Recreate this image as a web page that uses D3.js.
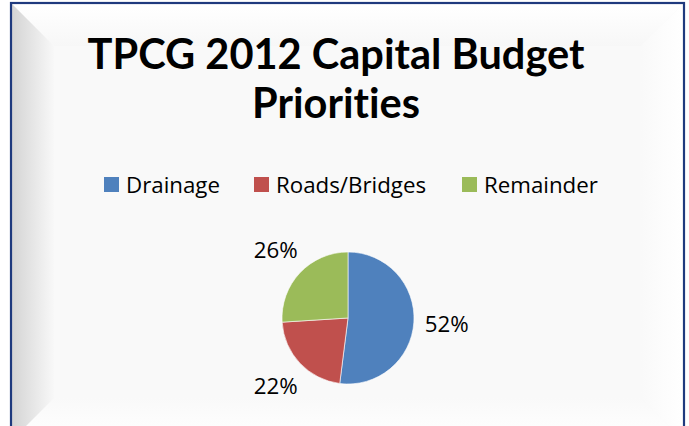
<!DOCTYPE html>
<html>
<head>
<meta charset="utf-8">
<script src="https://cdn.jsdelivr.net/npm/d3@7"></script>
<style>
  body { margin: 0; background: #fff; }
  text { font-family: Lato, "Open Sans", sans-serif; fill: #000; font-variant-ligatures: none; }
  text.lbl { font-family: "Open Sans", sans-serif; }
</style>
</head>
<body>
<script>
// chart data
const categories = ["Drainage", "Roads/Bridges", "Remainder"];
const shares = [52, 22, 26];
const colors = ["#4f81bd", "#c0504d", "#9bbb59"];
const titleLines = ["TPCG 2012 Capital Budget", "Priorities"];

const W = 689, H = 426;

const svg = d3.select("body")
    .append("svg")
    .attr("width", W)
    .attr("height", H);

// frame with bevel look
const fx0 = 12, fy0 = 4, fx1 = 683, fy1 = 440;
const bev = 42;
const defs = svg.append("defs");

const gl = defs.append("linearGradient").attr("id", "gLeft")
    .attr("x1", 0).attr("x2", 1).attr("y1", 0).attr("y2", 0);
gl.append("stop").attr("offset", 0).attr("stop-color", "#d4d4d4");
gl.append("stop").attr("offset", 1).attr("stop-color", "#f8f8f8");

const gt = defs.append("linearGradient").attr("id", "gTop")
    .attr("x1", 0).attr("x2", 0).attr("y1", 0).attr("y2", 1);
gt.append("stop").attr("offset", 0).attr("stop-color", "#ffffff");
gt.append("stop").attr("offset", 1).attr("stop-color", "#f7f7f7");

const gr = defs.append("linearGradient").attr("id", "gRight")
    .attr("x1", 1).attr("x2", 0).attr("y1", 0).attr("y2", 0);
gr.append("stop").attr("offset", 0).attr("stop-color", "#ffffff");
gr.append("stop").attr("offset", 1).attr("stop-color", "#f9f9f9");

const gb = defs.append("linearGradient").attr("id", "gBottom")
    .attr("x1", 0).attr("x2", 0).attr("y1", 1).attr("y2", 0);
gb.append("stop").attr("offset", 0).attr("stop-color", "#ffffff");
gb.append("stop").attr("offset", 1).attr("stop-color", "#f9f9f9");

svg.append("rect")
    .attr("x", fx0).attr("y", fy0)
    .attr("width", fx1 - fx0).attr("height", fy1 - fy0)
    .attr("fill", "#f9f9f9");

svg.append("path")
    .attr("d", `M${fx0},${fy0}L${fx1},${fy0}L${fx1 - bev},${fy0 + bev}L${fx0 + bev},${fy0 + bev}Z`)
    .attr("fill", "url(#gTop)");
svg.append("path")
    .attr("d", `M${fx1},${fy0}L${fx1},${fy1}L${fx1 - bev},${fy1 - bev}L${fx1 - bev},${fy0 + bev}Z`)
    .attr("fill", "url(#gRight)");
svg.append("path")
    .attr("d", `M${fx0},${fy1}L${fx1},${fy1}L${fx1 - bev},${fy1 - bev}L${fx0 + bev},${fy1 - bev}Z`)
    .attr("fill", "url(#gBottom)");
svg.append("path")
    .attr("d", `M${fx0},${fy0}L${fx0 + bev},${fy0 + bev}L${fx0 + bev},${fy1 - bev}L${fx0},${fy1}Z`)
    .attr("fill", "url(#gLeft)");

svg.append("rect")
    .attr("x", fx0 - 1).attr("y", fy0 - 1)
    .attr("width", fx1 - fx0 + 2).attr("height", fy1 - fy0 + 2)
    .attr("fill", "none")
    .attr("stroke", "#1f3a7e")
    .attr("stroke-width", 2.2);

// title, sized so the first line is as wide as in the picture
const titleBase = [69, 118];
const titleCx = 336;
const title = svg.append("g");
titleLines.forEach(function(t, i) {
    title.append("text")
        .attr("x", titleCx)
        .attr("y", titleBase[i])
        .attr("text-anchor", "middle")
        .attr("font-weight", "bold")
        .attr("font-size", 44)
        .text(t);
});
const w0 = title.select("text").node().getComputedTextLength();
title.selectAll("text").attr("font-size", 44 * 497 / w0);

// legend
const legendX = [104, 254, 462];
const items = svg.append("g").selectAll("g")
    .data(categories).enter()
    .append("g")
    .attr("transform", function(d, i) { return "translate(" + legendX[i] + ",177)"; });
items.append("rect")
    .attr("width", 15).attr("height", 15)
    .attr("fill", function(d, i) { return colors[i]; });
items.append("text")
    .attr("class", "lbl")
    .attr("x", 22)
    .attr("y", 15.5)
    .attr("font-size", 22.3)
    .text(function(d) { return d; });

// pie
const cx = 348, cy = 318, r = 66;
const pie = d3.pie().sort(null).value(function(d) { return d; });
const arc = d3.arc().innerRadius(0).outerRadius(r);
const labelArc = d3.arc().innerRadius(99).outerRadius(99);

const g = svg.append("g").attr("transform", "translate(" + cx + "," + cy + ")");
g.selectAll("path")
    .data(pie(shares)).enter()
    .append("path")
    .attr("d", arc)
    .attr("fill", function(d, i) { return colors[i]; })
    .attr("stroke", "#ffffff")
    .attr("stroke-width", 0.6);

g.selectAll("text")
    .data(pie(shares)).enter()
    .append("text")
    .attr("class", "lbl")
    .attr("transform", function(d) { return "translate(" + labelArc.centroid(d) + ")"; })
    .attr("text-anchor", "middle")
    .attr("dy", "0.36em")
    .attr("font-size", 22.3)
    .text(function(d) { return d.data + "%"; });
</script>
</body>
</html>
